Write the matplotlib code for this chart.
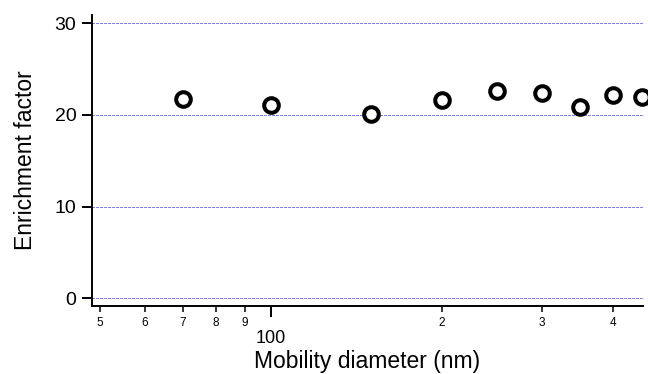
import numpy as np
import matplotlib.pyplot as plt
from matplotlib.ticker import FixedLocator, FixedFormatter

plt.rcParams['font.family'] = ['Liberation Sans', 'DejaVu Sans']

# Data
diameter_nm = [70, 100, 150, 200, 250, 300, 350, 400, 450]
enrichment = [21.7, 21.1, 20.1, 21.6, 22.6, 22.4, 20.9, 22.2, 22.0]

major_x = [100]
major_x_labels = ['100']
minor_x = [50, 60, 70, 80, 90, 200, 300, 400]
minor_x_labels = ['5', '6', '7', '8', '9', '2', '3', '4']
y_ticks = [0, 10, 20, 30]

fig = plt.figure(figsize=(6.48, 3.74), dpi=100)
ax = fig.add_axes([92 / 648, 68.3 / 374, (643 - 92) / 648, (305.7 - 15) / 374])

ax.set_xscale('log')
ax.set_xlim(48.5, 451)
ax.set_ylim(-0.8, 30.9)

# dotted blue grid lines
for yv in y_ticks:
    ax.axhline(yv, color='#8080ff', linestyle=(0, (2.3, 1.0)), linewidth=0.8,
               antialiased=False, zorder=1)

ax.plot(diameter_nm, enrichment, linestyle='none', marker='o', markersize=10.5,
        markerfacecolor='white', markeredgecolor='black', markeredgewidth=2.9,
        clip_on=False, zorder=3)

# x ticks: "100" as major, the rest as small minor labels
ax.xaxis.set_major_locator(FixedLocator(major_x))
ax.xaxis.set_major_formatter(FixedFormatter(major_x_labels))
ax.xaxis.set_minor_locator(FixedLocator(minor_x))
ax.xaxis.set_minor_formatter(FixedFormatter(minor_x_labels))
ax.tick_params(axis='x', which='major', length=8, width=1.4, labelsize=13, pad=9.5)
ax.tick_params(axis='x', which='minor', length=4.3, width=1.1, labelsize=8.5, pad=3.5)

ax.set_yticks(y_ticks)
ax.tick_params(axis='y', which='major', length=7.2, width=1.4, labelsize=14, pad=4)

for side in ['top', 'right']:
    ax.spines[side].set_visible(False)
for side in ['left', 'bottom']:
    ax.spines[side].set_linewidth(1.4)

ax.set_xlabel('Mobility diameter (nm)', fontsize=16.5, labelpad=2.5)
ax.set_ylabel('Enrichment factor', fontsize=16.5, labelpad=13)

fig.savefig('out.png', dpi=100)
